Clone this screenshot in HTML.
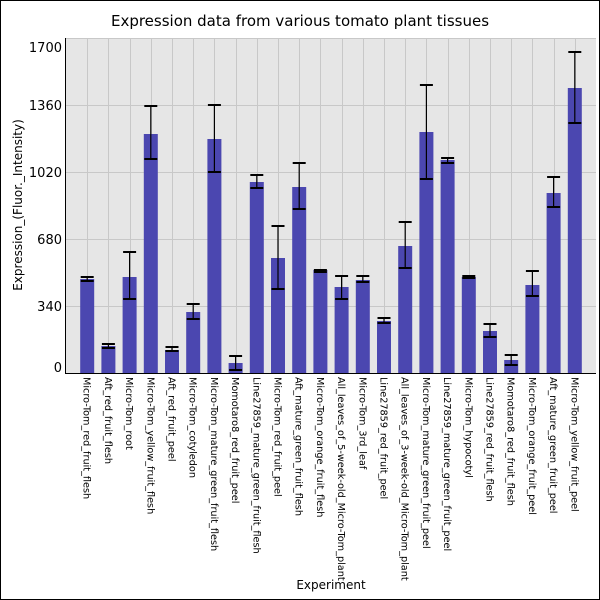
<!DOCTYPE html>
<html><head><meta charset="utf-8"><style>
html,body{margin:0;padding:0;background:#fff}
svg{display:block}
text{font-family:"DejaVu Sans","Liberation Sans",sans-serif;fill:#000}
</style></head><body>
<svg width="600" height="600" xmlns="http://www.w3.org/2000/svg">
<rect x="0.5" y="0.5" width="599" height="599" fill="#fff" stroke="#000"/>
<text x="300" y="26" font-size="15" text-anchor="middle">Expression data from various tomato plant tissues</text>
<rect x="66" y="38" width="530" height="335" fill="#e6e6e6"/>
<g stroke="#c8c8c8" stroke-width="1">
<line x1="66" x2="596" y1="105.5" y2="105.5"/><line x1="66" x2="596" y1="172.5" y2="172.5"/>
<line x1="66" x2="596" y1="239.5" y2="239.5"/><line x1="66" x2="596" y1="306.5" y2="306.5"/>
<line x1="66" x2="596" y1="38.5" y2="38.5"/>
</g>
<g id="bars"></g>
<line x1="65.5" y1="38" x2="65.5" y2="373" stroke="#000"/>
<line x1="65" y1="373.5" x2="596" y2="373.5" stroke="#000"/>
<g font-size="13" text-anchor="end">
<text x="62" y="52">1700</text><text x="62" y="110">1360</text><text x="62" y="177">1020</text>
<text x="62" y="244">680</text><text x="62" y="311">340</text><text x="62" y="372">0</text>
</g>
<text transform="translate(22,205) rotate(-90)" font-size="12" text-anchor="middle">Expression_(Fluor._Intensity)</text>
<text x="331" y="589" font-size="12" text-anchor="middle">Experiment</text>
<g id="labels" font-size="9.7"></g>
</svg>
<script>
var d=[["Micro-Tom_red_fruit_flesh",279,277,281],["Aft_red_fruit_flesh",346,344,348],["Micro-Tom_root",277,252,299],["Micro-Tom_yellow_fruit_flesh",134,106,159],["Aft_red_fruit_peel",350,347,351],["Micro-Tom_cotyledon",312,304,319],["Micro-Tom_mature_green_fruit_flesh",139,105,172],["Momotaro8_red_fruit_peel",363,356,370],["Line27859_mature_green_fruit_flesh",182,175,188],["Micro-Tom_red_fruit_peel",258,226,289],["Aft_mature_green_fruit_flesh",187,163,209],["Micro-Tom_orange_fruit_flesh",270,270,272],["All_leaves_of_5-week-old_Micro-Tom_plant",287,276,299],["Micro-Tom_3rd_leaf",280,276,282],["Line27859_red_fruit_peel",321,318,323],["All_leaves_of_3-week-old_Micro-Tom_plant",246,222,268],["Micro-Tom_mature_green_fruit_peel",132,85,179],["Line27859_mature_green_fruit_peel",160,158,163],["Micro-Tom_hypocotyl",277,276,278],["Line27859_red_fruit_flesh",331,324,337],["Momotaro8_red_fruit_flesh",360,355,365],["Micro-Tom_orange_fruit_peel",285,271,296],["Aft_mature_green_fruit_peel",193,177,207],["Micro-Tom_yellow_fruit_peel",88,52,123]];
var b=document.getElementById("bars"),L=document.getElementById("labels"),s="";
var h='';
d.forEach(function(r,i){var c=66+21.2*(i+1);
h+='<line x1="'+(Math.round(c)+0.5)+'" x2="'+(Math.round(c)+0.5)+'" y1="38" y2="373" stroke="#c8c8c8"/>';});
d.forEach(function(r,i){var c=66+21.2*(i+1);
h+='<rect x="'+(c-7)+'" y="'+r[1]+'" width="14" height="'+(373-r[1])+'" fill="#4b47b0"/>';
h+='<line x1="'+c+'" x2="'+c+'" y1="'+r[2]+'" y2="'+r[3]+'" stroke="#000" stroke-width="1.2"/>';
h+='<line x1="'+(c-6.5)+'" x2="'+(c+6.5)+'" y1="'+r[2]+'" y2="'+r[2]+'" stroke="#000" stroke-width="2"/>';
h+='<line x1="'+(c-6.5)+'" x2="'+(c+6.5)+'" y1="'+r[3]+'" y2="'+r[3]+'" stroke="#000" stroke-width="2"/>';
s+='<text transform="translate('+(c-3.5)+',377) rotate(90)">'+r[0]+'</text>';});
b.innerHTML=h;L.innerHTML=s;
</script>
</body></html>
